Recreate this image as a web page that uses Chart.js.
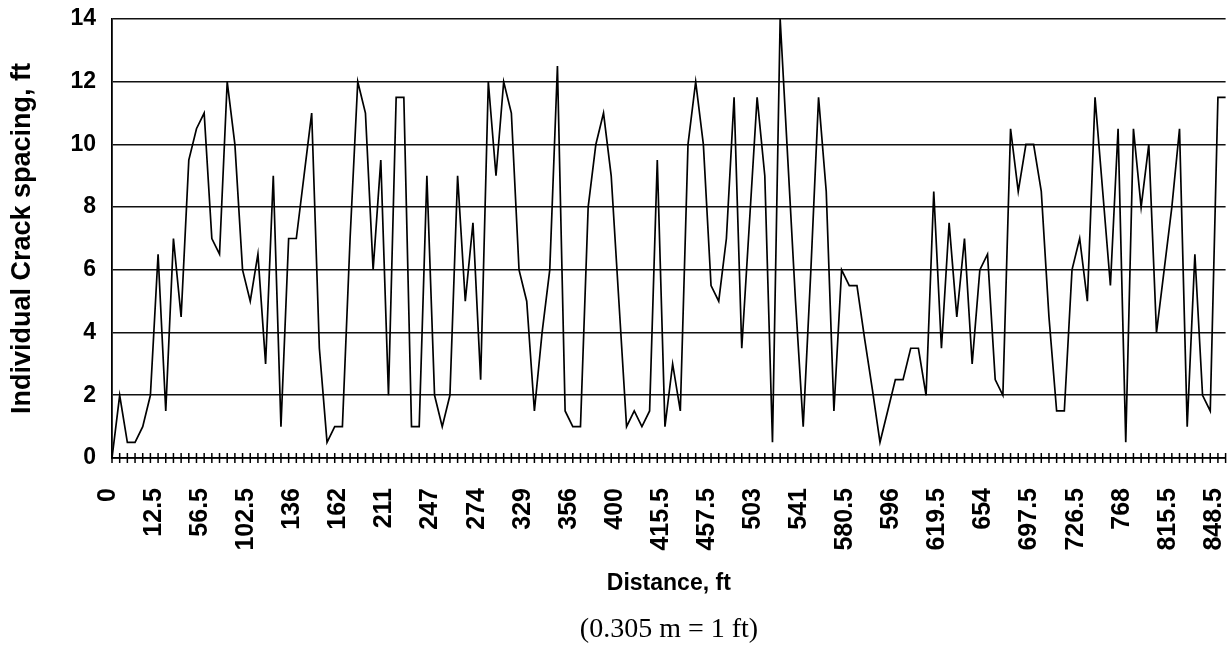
<!DOCTYPE html>
<html><head><meta charset="utf-8">
<script src="https://cdn.jsdelivr.net/npm/chart.js@4/dist/chart.umd.min.js"></script>
<style>
html,body{margin:0;padding:0;background:#fff;}
#wrap{position:relative;width:1227px;height:656px;overflow:hidden;}
#note{position:absolute;left:112px;width:1114px;top:612px;text-align:center;font-family:"Liberation Serif","Times New Roman",serif;font-size:28px;line-height:32px;color:#000;}
</style></head><body>
<div id="wrap"><canvas id="c" width="1227" height="656"></canvas><div id="note">(0.305 m = 1 ft)</div></div>
<script>
// Tick labels shown on the distance axis (every 6th crack)
const tickLabels = ['0','12.5','56.5','102.5','136','162','211','247','274','329','356','400','415.5','457.5','503','541','580.5','596','619.5','654','697.5','726.5','768','815.5','848.5'];
const labelStep = 6;
// Individual crack spacing, ft (one value per crack)
const crackSpacing = [
  0, 2, 0.5, 0.5, 1, 2, 6.5, 1.5, 7, 4.5,
  9.5, 10.5, 11, 7, 6.5, 12, 10, 6, 5, 6.5,
  3, 9, 1, 7, 7, 9, 11, 3.5, 0.5, 1,
  1, 7, 12, 11, 6, 9.5, 2, 11.5, 11.5, 1,
  1, 9, 2, 1, 2, 9, 5, 7.5, 2.5, 12,
  9, 12, 11, 6, 5, 1.5, 4, 6, 12.5, 1.5,
  1, 1, 8, 10, 11, 9, 5, 1, 1.5, 1,
  1.5, 9.5, 1, 3, 1.5, 10, 12, 10, 5.5, 5,
  7, 11.5, 3.5, 7.5, 11.5, 9, 0.5, 14, 9.5, 5,
  1, 6, 11.5, 8.5, 1.5, 6, 5.5, 5.5, 3.8, 2.2,
  0.5, 1.5, 2.5, 2.5, 3.5, 3.5, 2, 8.5, 3.5, 7.5,
  4.5, 7, 3, 6, 6.5, 2.5, 2, 10.5, 8.5, 10,
  10, 8.5, 4.5, 1.5, 1.5, 6, 7, 5, 11.5, 8.5,
  5.5, 10.5, 0.5, 10.5, 8, 10, 4, 6, 8, 10.5,
  1, 6.5, 2, 1.5, 11.5, 11.5
];
const yTicks = [0, 2, 4, 6, 8, 10, 12, 14];

const categories = crackSpacing.map((_, i) => (i % labelStep === 0 && tickLabels[i / labelStep] !== undefined) ? tickLabels[i / labelStep] : '');

const crossTicks = {
  id: 'crossTicks',
  afterDatasetsDraw(chart) {
    const xs = chart.scales.x, ys = chart.scales.y;
    const y0 = ys.getPixelForValue(0);
    const ctx = chart.ctx;
    ctx.save();
    ctx.strokeStyle = '#000';
    ctx.lineWidth = 1.5;
    ctx.beginPath();
    for (let i = 0; i < categories.length; i++) {
      const px = xs.getPixelForValue(i);
      ctx.moveTo(px, y0 - 5);
      ctx.lineTo(px, y0 + 5);
    }
    ctx.stroke();
    ctx.restore();
  }
};

const FONT = '"Liberation Sans", Arial, sans-serif';

new Chart(document.getElementById('c'), {
  type: 'line',
  data: {
    labels: categories,
    datasets: [{
      data: crackSpacing,
      borderColor: '#000',
      borderWidth: 1.7,
      pointRadius: 0,
      tension: 0,
      fill: false
    }]
  },
  options: {
    responsive: false,
    animation: false,
    layout: { padding: { left: 0, right: 1.4, top: 19, bottom: 0 } },
    plugins: { legend: { display: false }, tooltip: { enabled: false }, title: { display: false } },
    scales: {
      x: {
        type: 'category',
        offset: false,
        grid: { display: false, drawTicks: false },
        border: { display: true, color: '#000', width: 1.8 },
        ticks: {
          autoSkip: false,
          minRotation: 90,
          maxRotation: 90,
          padding: 30,
          labelOffset: -4,
          color: '#000',
          font: { family: FONT, size: 25, weight: 'bold' }
        },
        title: {
          display: true,
          text: 'Distance, ft',
          color: '#000',
          font: { family: FONT, size: 23, weight: 'bold' },
          padding: { top: 0, bottom: 59 }
        },
        afterFit(scale) { scale.height = 198; scale.paddingLeft = 0; scale.paddingRight = 0; }
      },
      y: {
        min: 0,
        max: 14,
        afterBuildTicks(scale) { scale.ticks = yTicks.map(v => ({ value: v })); },
        grid: { color: '#111', lineWidth: 1.6, drawTicks: false },
        border: { display: true, color: '#000', width: 1.8 },
        ticks: {
          padding: 16,
          color: '#000',
          font: { family: FONT, size: 23, weight: 'bold' }
        },
        title: {
          display: true,
          text: 'Individual Crack spacing, ft',
          color: '#000',
          font: { family: FONT, size: 27, weight: 'bold' },
          padding: { top: 6, bottom: 0 }
        },
        afterFit(scale) { scale.width = 112; scale.paddingTop = 0; scale.paddingBottom = 0; }
      }
    }
  },
  plugins: [crossTicks]
});
</script>
</body></html>
